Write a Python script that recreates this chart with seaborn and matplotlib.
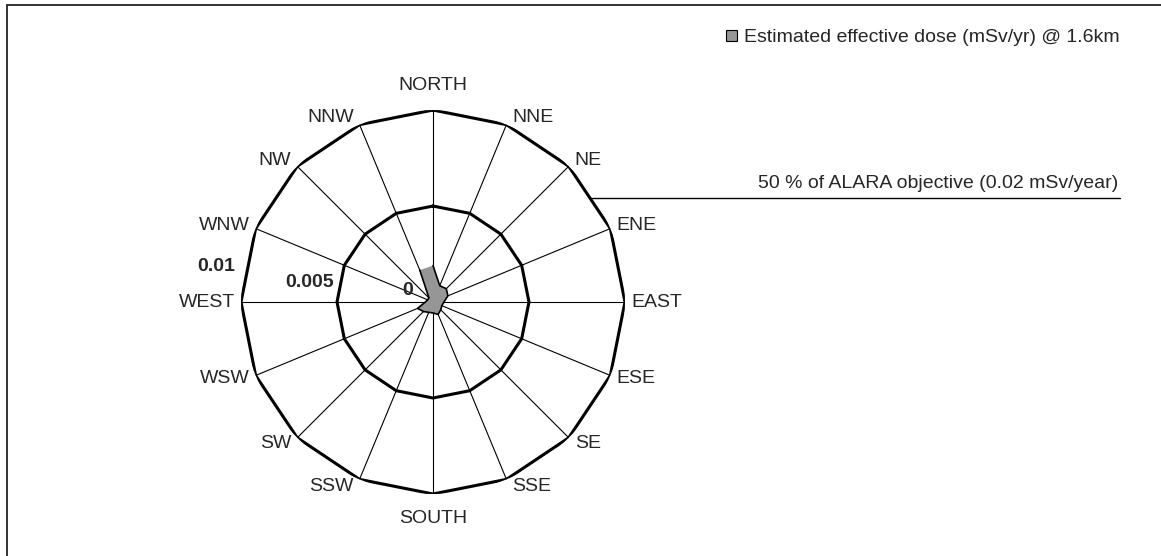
import numpy as np
import pandas as pd
import matplotlib
matplotlib.use("Agg")
import matplotlib.pyplot as plt
import seaborn as sns
from matplotlib.patches import Patch, Rectangle
from matplotlib.lines import Line2D

# Data: estimated dose per wind sector
directions = ["NORTH", "NNE", "NE", "ENE", "EAST", "ESE", "SE", "SSE",
              "SOUTH", "SSW", "SW", "WSW", "WEST", "WNW", "NW", "NNW"]
dose = [0.0019, 0.00092, 0.00098, 0.00084, 0.00057, 0.0005, 0.00057, 0.0007,
        0.00057, 0.00058, 0.0007, 0.00087, 0.0004, 0.0003, 0.0003, 0.0018]
ring_values = [0.005, 0.01]
ring_labels = ["0", "0.005", "0.01"]
series_label = "Estimated effective dose (mSv/yr) @ 1.6km"
alara_label = "50 % of ALARA objective (0.02 mSv/year)"

FS = 14

sns.set_theme(style="white")
plt.rcParams["font.family"] = ["Liberation Sans", "DejaVu Sans"]
plt.rcParams["font.size"] = FS

df = pd.DataFrame({"direction": directions, "dose": dose})
df["theta"] = np.arange(len(df)) * 2 * np.pi / len(df)

fig = plt.figure(figsize=(11.61, 5.56), dpi=100)

# outer frame (only left and top edges visible in the reference)
fig.add_artist(Rectangle((7 / 1161, -0.2), 1.2, 1.2 - 5 / 556,
                         transform=fig.transFigure, fill=False,
                         edgecolor="#222222", lw=1.3))

ax = fig.add_axes([0.2076, 0.1115, 0.3307, 0.6906], projection="polar")
ax.set_theta_zero_location("N")
ax.set_theta_direction(-1)
ax.set_ylim(0, 0.01)
ax.spines["polar"].set_visible(False)
ax.grid(False)
ax.set_yticks([])
ax.set_xticks([])
ax.set_facecolor("none")

# spokes
for t in df["theta"]:
    ax.plot([t, t], [0, 0.01], color="black", lw=0.8, zorder=1)

# polygon rings
theta_closed = np.append(df["theta"].values, df["theta"].values[0])
for rv in ring_values:
    ax.plot(theta_closed, [rv] * len(theta_closed), color="black", lw=2.2,
            zorder=2, solid_joinstyle="miter")

# data series
dose_closed = np.append(df["dose"].values, df["dose"].values[0])
ax.fill(theta_closed, dose_closed, facecolor="#969696", edgecolor="none", zorder=3)
sns.lineplot(x=theta_closed, y=dose_closed, sort=False, ax=ax,
             color="black", lw=1.2, zorder=4, legend=False)
ax.set_xlabel("")
ax.set_ylabel("")

# direction labels
for t, name in zip(df["theta"], df["direction"]):
    s, c = np.sin(t), np.cos(t)
    if abs(s) < 1e-6:
        ha = "center"
        off = (0, 25 if c > 0 else -25)
    else:
        ha = "left" if s > 0 else "right"
        off = (6 if s > 0 else -6, 8 * c)
    ax.annotate(name, xy=(t, 0.01), xytext=off, textcoords="offset pixels",
                ha=ha, va="center", fontsize=FS, annotation_clip=False)

# ring value labels (bold, left of centre)
west = 3 * np.pi / 2
for rv, lab, dx, dy in zip([0] + ring_values, ring_labels, [-20, -3, -6], [12, 20, 36]):
    ax.annotate(lab, xy=(west, rv), xytext=(dx, dy), textcoords="offset pixels",
                ha="right", va="center", fontsize=FS, fontweight="bold",
                annotation_clip=False)

# ALARA reference line and text
fig.add_artist(Line2D([590 / 1161, 1120 / 1161], [1 - 198 / 556, 1 - 198 / 556],
                      transform=fig.transFigure, color="black", lw=1.0))
fig.text(1118 / 1161, 1 - 192 / 556, alara_label, ha="right", va="bottom",
         fontsize=FS)

# legend
handles = [Patch(facecolor="#969696", edgecolor="black", lw=0.8, label=series_label)]
fig.legend(handles=handles, loc="center right",
           bbox_to_anchor=(1120 / 1161, 1 - 38 / 556), frameon=False,
           handlelength=0.55, handleheight=0.55, handletextpad=0.4,
           borderpad=0, borderaxespad=0, fontsize=FS)

fig.savefig("out.png", dpi=100, facecolor="white")
